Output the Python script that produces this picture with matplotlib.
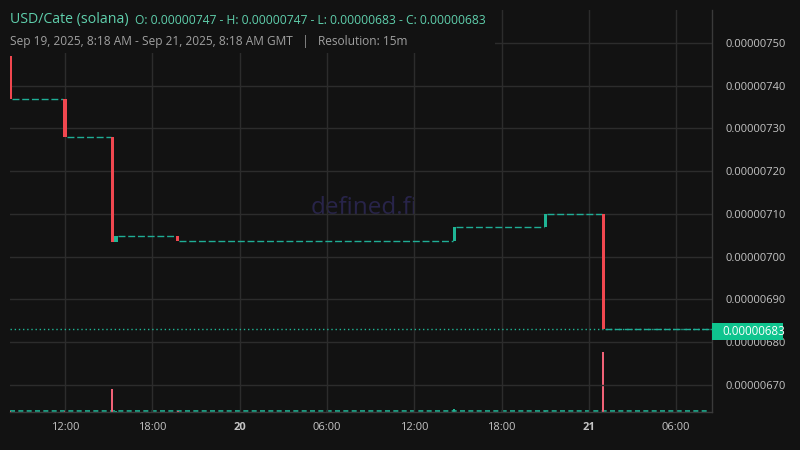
import matplotlib
matplotlib.use("Agg")
import matplotlib.pyplot as plt
import matplotlib.dates as mdates
import matplotlib.transforms as mtrans
from matplotlib.patches import Rectangle
import pandas as pd

# ---- data ----
candle_times = ["2025-09-19 08:15", "2025-09-19 12:00", "2025-09-19 15:15",
                "2025-09-19 15:30", "2025-09-19 19:45", "2025-09-20 14:45",
                "2025-09-20 21:00", "2025-09-21 01:00"]
opens = [7.47e-6, 7.37e-6, 7.28e-6, 7.034e-6, 7.048e-6, 7.036e-6, 7.07e-6, 7.10e-6]
closes = [7.37e-6, 7.28e-6, 7.034e-6, 7.048e-6, 7.037e-6, 7.07e-6, 7.10e-6, 6.83e-6]
volumes = [8, 8, 230, 10, 8, 30, 8, 600]
flat_volume = 10
end_time = "2025-09-21 08:15"
last_price = 6.83e-6

y_ticks = [6.7e-6, 6.8e-6, 6.9e-6, 7.0e-6, 7.1e-6, 7.2e-6, 7.3e-6, 7.4e-6, 7.5e-6]
x_tick_times = ["2025-09-19 12:00", "2025-09-19 18:00", "2025-09-20 00:00",
                "2025-09-20 06:00", "2025-09-20 12:00", "2025-09-20 18:00",
                "2025-09-21 00:00", "2025-09-21 06:00"]
x_tick_labels = ["12:00", "18:00", "20", "06:00", "12:00", "18:00", "21", "06:00"]

title_text = "USD/Cate (solana)"
ohlc_text = "O: 0.00000747 - H: 0.00000747 - L: 0.00000683 - C: 0.00000683"
sub_text = "Sep 19, 2025, 8:18 AM - Sep 21, 2025, 8:18 AM GMT   |   Resolution: 15m"

# ---- style ----
BG = "#121212"
GRID = "#2c2c2c"
RED = "#f0474f"
GREEN = "#1fb595"
TEAL_TXT = "#5fcfac"
plt.rcParams['font.family'] = ['Open Sans', 'DejaVu Sans']

fig = plt.figure(figsize=(8, 4.5), dpi=100, facecolor=BG)
ax = fig.add_axes([10/800, 38/450, 702/800, 402/450])
ax.set_facecolor(BG)

t = [mdates.date2num(pd.Timestamp(s)) for s in candle_times]
t_end = mdates.date2num(pd.Timestamp(end_time))
cw = 15/60/24 * 0.85

ax.set_xlim(mdates.date2num(pd.Timestamp("2025-09-19 08:13")),
            mdates.date2num(pd.Timestamp("2025-09-21 08:28")))
ax.set_ylim(6.6368e-6, 7.5772e-6)

# volume overlay (created first so the price axis keeps its right-side ticks)
ax2 = ax.twinx()
ax2.set_ylim(0, 4020)
ax2.set_yticks([])
for s in ax2.spines.values():
    s.set_visible(False)
for ti, o, c, v in zip(t, opens, closes, volumes):
    col = "#f06277" if c < o else GREEN
    ax2.bar(ti, v, width=cw*0.6, color=col, zorder=2)
ax2.hlines(flat_volume, ax.get_xlim()[0], t_end, colors=GREEN, linewidth=1.2,
           linestyles=(0, (3, 2)), zorder=1)

# watermark (on the background axes, under the grid of the price axes)
ax2.text(0.504, 0.508, "defined.fi", transform=ax2.transAxes, color="#28244a",
         fontsize=17.5, ha='center', va='center', zorder=0)

# flat segments between price changes
for i in range(len(t)):
    x0 = t[i] + cw/2
    x1 = t[i+1] - cw/2 if i + 1 < len(t) else t_end
    ax.hlines(closes[i], x0, x1, colors="#1fae96", linewidth=1.0,
              linestyles=(0, (5, 2)), zorder=3)

# candles
for ti, o, c in zip(t, opens, closes):
    col = GREEN if c >= o else RED
    ax.add_patch(Rectangle((ti - cw/2, min(o, c)), cw, abs(c - o),
                           facecolor=col, edgecolor='none', zorder=4))

# last price dotted line
ax.axhline(last_price, color=GREEN, linewidth=1.0, linestyle=(0, (1, 2)), zorder=2)

# grid / ticks
ax.set_yticks(y_ticks)
ax.set_yticklabels([f"{v:.8f}" for v in y_ticks])
ax.set_xticks([mdates.date2num(pd.Timestamp(s)) for s in x_tick_times])
ax.set_xticklabels(x_tick_labels)
ax.grid(True, color=GRID, linewidth=1.0, zorder=0)
ax.set_axisbelow(True)
ax.yaxis.tick_right()
ax.yaxis.set_label_position('right')
ax.tick_params(axis='both', length=0, colors="#c4c4c4", labelsize=8)
ax.tick_params(axis='y', pad=10, left=False, labelleft=False, right=True, labelright=True)
ax.tick_params(axis='x', pad=7)
for lbl in ax.get_xticklabels():
    if lbl.get_text() in ("20", "21"):
        lbl.set_fontweight('bold')
for s in ['left', 'top']:
    ax.spines[s].set_visible(False)
for s in ['right', 'bottom']:
    ax.spines[s].set_color("#3a3a3a")
    ax.spines[s].set_linewidth(1.0)
ax.set_zorder(ax2.get_zorder() + 1)
ax.patch.set_visible(False)
ax2.patch.set_facecolor(BG)
ax2.patch.set_visible(True)

# price tag
blend = mtrans.blended_transform_factory(ax.transAxes, ax.transData)
ax.add_patch(Rectangle((1.0, last_price - 2.57e-8), 71/702, 3.98e-8,
                       transform=blend, facecolor="#0fc48e", edgecolor='none',
                       clip_on=False, zorder=10))
ax.text(1.0 + 10/702, last_price - 0.6e-8, f"{last_price:.8f}", transform=blend,
        color="white", fontsize=8.3, va='center', ha='left', zorder=11, clip_on=False)

# header background and text
fig.patches.append(Rectangle((0, (450-53)/450), 495/800, 43/450, transform=fig.transFigure,
                             facecolor=BG, edgecolor='none', zorder=5))
fig.text(10/800, 1 - 20/450, title_text, color=TEAL_TXT, fontsize=10.2, va='center', ha='left', zorder=6)
fig.text(135/800, 1 - 20/450, ohlc_text, color=TEAL_TXT, fontsize=8.7, va='center', ha='left', zorder=6)
fig.text(10/800, 1 - 41/450, sub_text, color="#a0a0a0", fontsize=8.6, va='center', ha='left', zorder=6)

fig.savefig("out.png", dpi=100, facecolor=BG)
